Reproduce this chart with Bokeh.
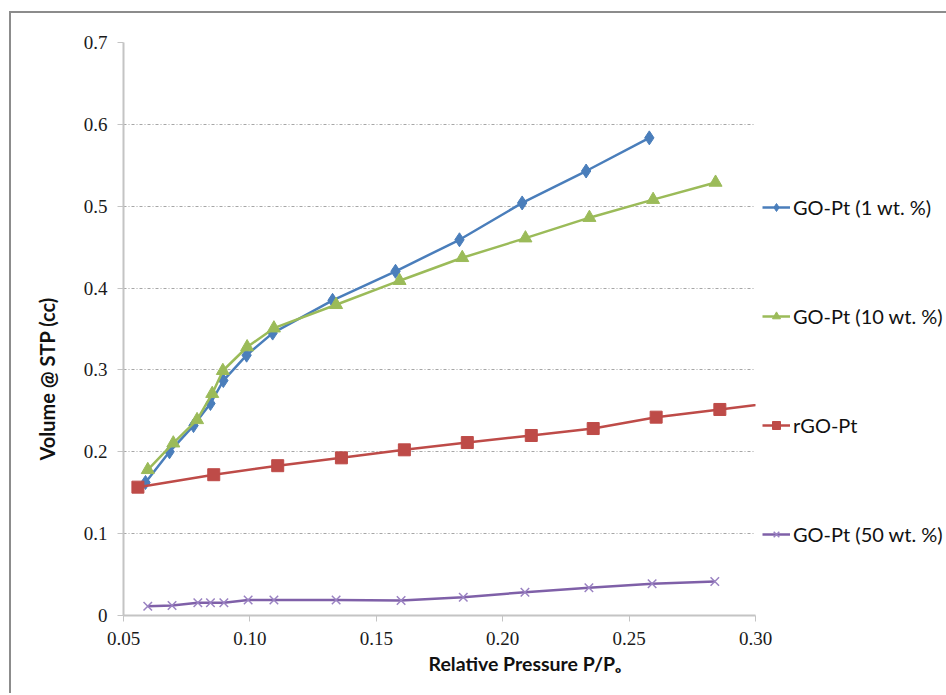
import math
from bokeh.plotting import figure
from bokeh.models import Range1d, FixedTicker, Legend, LegendItem, Title
from bokeh.embed import file_html
from bokeh.resources import INLINE

# ---- data ----
go1_x = [0.0587, 0.0682, 0.0777, 0.0844, 0.0895, 0.0987, 0.1090, 0.1327, 0.1576, 0.1829, 0.2077, 0.2330, 0.2580]
go1_y = [0.1625, 0.2000, 0.2320, 0.2590, 0.2870, 0.3180, 0.3450, 0.3850, 0.4205, 0.4590, 0.5040, 0.5430, 0.5835]

go10_x = [0.0596, 0.0697, 0.0791, 0.0851, 0.0893, 0.0989, 0.1095, 0.1341, 0.1592, 0.1840, 0.2090, 0.2343, 0.2595, 0.2842]
go10_y = [0.1780, 0.2105, 0.2390, 0.2710, 0.2990, 0.3280, 0.3510, 0.3796, 0.4090, 0.4370, 0.4610, 0.4860, 0.5080, 0.5290]

rgo_x = [0.0557, 0.0857, 0.1110, 0.1362, 0.1611, 0.1860, 0.2113, 0.2358, 0.2607, 0.2859, 0.3100]
rgo_y = [0.1568, 0.1720, 0.1830, 0.1926, 0.2024, 0.2113, 0.2199, 0.2284, 0.2423, 0.2517, 0.2610]

go50_x = [0.0596, 0.0692, 0.0794, 0.0844, 0.0897, 0.0993, 0.1095, 0.1341, 0.1598, 0.1844, 0.2088, 0.2341, 0.2591, 0.2839]
go50_y = [0.0114, 0.0122, 0.0155, 0.0155, 0.0155, 0.0190, 0.0190, 0.0190, 0.0183, 0.0224, 0.0285, 0.0338, 0.0387, 0.0415]

series_names = ["GO-Pt (1 wt. %)", "GO-Pt (10 wt. %)", "rGO-Pt", "GO-Pt (50 wt. %)"]

x_ticks = [0.05, 0.10, 0.15, 0.20, 0.25, 0.30]
y_ticks = [0.0, 0.1, 0.2, 0.3, 0.4, 0.5, 0.6, 0.7]
y_tick_labels = ["0", "0.1", "0.2", "0.3", "0.4", "0.5", "0.6", "0.7"]
x_tick_labels = ["0.05", "0.10", "0.15", "0.20", "0.25", "0.30"]

x_title = "Relative Pressure P/P\u2092"
y_title = "Volume @ STP (cc)"

# ---- figure ----
p = figure(frame_width=632, frame_height=573, output_backend="svg", toolbar_location=None,
           x_range=Range1d(0.05, 0.30), y_range=Range1d(0.0, 0.7),
           min_border_left=112, min_border_right=189, min_border_top=29, min_border_bottom=78)
p.margin = (11, 0, 0, 9)
p.styles = {"border-left": "2px solid #8c8c8c", "border-top": "2px solid #8c8c8c"}
p.outline_line_color = None
p.background_fill_color = "white"
p.border_fill_color = "white"

p.xgrid.grid_line_color = None
p.ygrid.grid_line_color = "#a6a6a6"
p.ygrid.grid_line_dash = "3 2 1 2"
p.ygrid.grid_line_width = 1

for axs in (p.xaxis, p.yaxis):
    axs.axis_line_color = "#c4c4c4"
    axs.axis_line_width = 2
    axs.major_tick_line_color = "#c4c4c4"
    axs.major_tick_line_width = 1
    axs.major_tick_in = 0
    axs.major_tick_out = 6
    axs.minor_tick_line_color = None
    axs.major_label_text_font = "Liberation Serif"
    axs.major_label_text_font_size = "19px"
    axs.major_label_text_color = "#1a1a1a"

p.xaxis.ticker = FixedTicker(ticks=x_ticks)
p.yaxis.ticker = FixedTicker(ticks=y_ticks)
p.xaxis.major_label_overrides = {t: s for t, s in zip(x_ticks, x_tick_labels)}
p.yaxis.major_label_overrides = {t: s for t, s in zip(y_ticks, y_tick_labels)}
p.xaxis.major_label_standoff = 10
p.yaxis.major_label_standoff = 10

blue, green, red, purple = "#4a7ebb", "#9bbb59", "#be4b48", "#7f60a8"

r1l = p.line(go1_x, go1_y, line_color=blue, line_width=2.5)
r1m = p.scatter(go1_x, go1_y, marker="diamond", size=14, fill_color=blue, line_color=blue)
r2l = p.line(go10_x, go10_y, line_color=green, line_width=2.5)
r2m = p.scatter(go10_x, go10_y, marker="triangle", size=13, fill_color=green, line_color=green)
r3l = p.line(rgo_x, rgo_y, line_color=red, line_width=2.5)
r3m = p.scatter(rgo_x, rgo_y, marker="square", size=12, fill_color=red, line_color=red)
r4l = p.line(go50_x, go50_y, line_color=purple, line_width=2.5)
r4m = p.scatter(go50_x, go50_y, marker="x", size=12, line_color="#9a82c2", line_width=1.5)

legend = Legend(items=[
    LegendItem(label=series_names[0], renderers=[r1l, r1m]),
    LegendItem(label=series_names[1], renderers=[r2l, r2m]),
    LegendItem(label=series_names[2], renderers=[r3l, r3m]),
    LegendItem(label=series_names[3], renderers=[r4l, r4m]),
], location=(7, 69))
legend.border_line_color = None
legend.background_fill_alpha = 0
legend.padding = 0
legend.margin = 0
legend.spacing = 85
legend.glyph_width = 28
legend.glyph_height = 20
legend.label_height = 20
legend.label_standoff = 3
legend.label_text_font = "Lato"
legend.label_text_font_size = "20px"
legend.label_text_color = "#111111"
p.add_layout(legend, "right")

# axis titles (placed relative to the whole chart area, as in the reference)
p.add_layout(Title(text=x_title, align="left", offset=305, standoff=5,
                   text_font="Lato", text_font_style="bold", text_font_size="19.5px",
                   text_color="#111111"), "below")
p.add_layout(Title(text=y_title, align="left", offset=155, standoff=43,
                   text_font="Lato", text_font_style="bold", text_font_size="20px",
                   text_color="#111111"), "left")

open("out.html", "w").write(file_html(p, INLINE))
